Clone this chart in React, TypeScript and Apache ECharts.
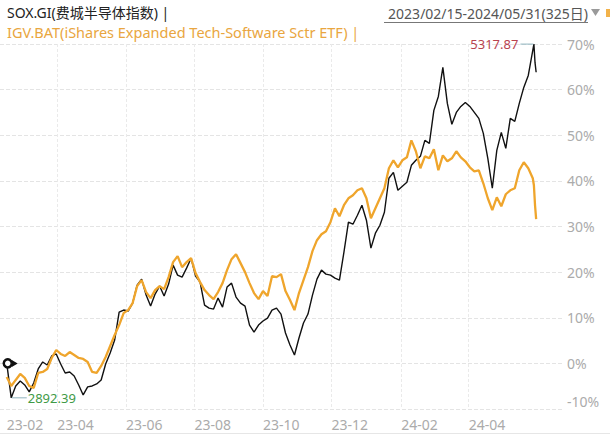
import { useEffect, useRef } from 'react';
import * as echarts from 'echarts';

const TITLE_SOX = 'SOX.GI(费城半导体指数) |';
const TITLE_IGV = 'IGV.BAT(iShares Expanded Tech-Software Sctr ETF) |';
const RANGE_TEXT = '2023/02/15-2024/05/31(325日)';

const SOX_MAX_PRICE = 5317.87;
const SOX_MIN_PRICE = 2892.39;

const X_MIN = '2023-02-09';
const X_MAX = '2024-06-23';
const xLabelDates = ['2023-02-15', '2023-04-01', '2023-06-01', '2023-08-01', '2023-10-01', '2023-12-01', '2024-02-01', '2024-04-01'];
const xGridDates = ['2023-04-01', '2023-06-01', '2023-08-01', '2023-10-01', '2023-12-01', '2024-02-01', '2024-04-01'];

const Y_MIN = -10;
const Y_MAX = 70;
const Y_STEP = 10;

const dates = [
  '2023-02-15', '2023-02-19', '2023-02-23', '2023-02-27', '2023-03-03', '2023-03-07', '2023-03-11', '2023-03-15', '2023-03-19', '2023-03-23',
  '2023-03-27', '2023-03-31', '2023-04-04', '2023-04-08', '2023-04-12', '2023-04-16', '2023-04-20', '2023-04-24', '2023-04-28', '2023-05-02',
  '2023-05-06', '2023-05-10', '2023-05-14', '2023-05-18', '2023-05-22', '2023-05-26', '2023-05-30', '2023-06-03', '2023-06-07', '2023-06-11',
  '2023-06-15', '2023-06-19', '2023-06-23', '2023-06-27', '2023-07-01', '2023-07-05', '2023-07-09', '2023-07-13', '2023-07-17', '2023-07-21',
  '2023-07-25', '2023-07-29', '2023-08-02', '2023-08-06', '2023-08-10', '2023-08-14', '2023-08-18', '2023-08-22', '2023-08-26', '2023-08-30',
  '2023-09-03', '2023-09-07', '2023-09-11', '2023-09-15', '2023-09-19', '2023-09-23', '2023-09-27', '2023-10-01', '2023-10-05', '2023-10-09',
  '2023-10-13', '2023-10-17', '2023-10-21', '2023-10-25', '2023-10-29', '2023-11-02', '2023-11-06', '2023-11-10', '2023-11-14', '2023-11-18',
  '2023-11-22', '2023-11-26', '2023-11-30', '2023-12-04', '2023-12-08', '2023-12-12', '2023-12-16', '2023-12-20', '2023-12-24', '2023-12-28',
  '2024-01-01', '2024-01-05', '2024-01-09', '2024-01-13', '2024-01-17', '2024-01-21', '2024-01-25', '2024-01-29', '2024-02-02', '2024-02-06',
  '2024-02-10', '2024-02-14', '2024-02-18', '2024-02-22', '2024-02-26', '2024-03-01', '2024-03-05', '2024-03-09', '2024-03-13', '2024-03-17',
  '2024-03-21', '2024-03-25', '2024-03-29', '2024-04-02', '2024-04-06', '2024-04-10', '2024-04-14', '2024-04-18', '2024-04-22', '2024-04-26',
  '2024-04-30', '2024-05-04', '2024-05-08', '2024-05-12', '2024-05-16', '2024-05-20', '2024-05-24', '2024-05-28', '2024-05-29', '2024-05-30', '2024-05-31',
];

// SOX.GI cumulative change (%)
const soxPct = [
  0, -7.55, -4.95, -3.85, -4.73, -6.26, -4.29, -1.23, 0.31, -0.35,
  1.62, 2.06, -0.13, -2.1, -1.88, -2.76, -4.73, -6.92, -5.16, -4.95,
  -4.51, -3.63, -0.13, 2.28, 5.12, 11.25, 11.69, 11.47, 13.22, 17.16,
  18.47, 14.97, 12.56, 15.19, 16.94, 14.75, 17.38, 21.53, 19.35, 18.9,
  20.88, 23.06, 19.12, 17.81, 12.78, 12.12, 11.9, 14.31, 12.34, 16.72,
  17.59, 14.53, 13.22, 12.56, 8.4, 6.87, 8.4, 9.28, 9.93, 11.69,
  12.12, 10.81, 6.65, 4.03, 1.84, 5.56, 8.84, 10.81, 14.97, 18.47,
  20.44, 19.56, 19.34, 18.69, 18.25, 24.38, 30.94, 30.5, 32.47, 34.66,
  31.38, 25.25, 28.53, 30.28, 33.13, 40.57, 41.88, 37.94, 38.82, 39.69,
  43.41, 44.51, 45.38, 48.88, 48.23, 55.45, 58.51, 64.86, 56.98, 52.39,
  55.01, 56.32, 57.2, 56.32, 55.01, 53.7, 50.42, 44.95, 38.38, 46.7,
  50.64, 47.13, 53.7, 53.04, 56.98, 60.48, 63.11, 68.58, 69.98, 65.9, 63.8,
];

// IGV.BAT cumulative change (%)
const igvPct = [
  -2.98, -4.95, -3.63, -2.32, -3.19, -4.95, -5.38, -2.1, -1.88, -1.23,
  1.18, 2.93, 2.06, 1.62, 2.49, 1.84, 1.18, 0.96, 0.31, -1.88,
  -2.1, -0.57, 1.4, 3.81, 6.21, 8.4, 11.03, 11.68, 13.22, 16.94,
  18.25, 15.63, 14.31, 16.06, 16.94, 16.28, 18.91, 22.19, 23.5, 21.09,
  22.19, 23.06, 19.78, 17.81, 16.06, 14.97, 14.09, 15.62, 17.59, 20.44,
  22.84, 23.94, 21.97, 20.0, 17.59, 15.41, 14.09, 15.84, 14.75, 19.12,
  18.91, 19.56, 15.84, 13.87, 11.68, 15.41, 18.25, 21.09, 24.6, 27.0,
  28.31, 28.97, 30.94, 34.0, 32.25, 34.66, 36.19, 36.85, 37.94, 38.38,
  36.19, 31.82, 34.0, 36.19, 38.38, 42.76, 44.51, 42.98, 44.51, 45.16,
  48.88, 46.48, 42.76, 45.38, 44.95, 46.92, 42.32, 45.6, 44.29, 44.95,
  46.48, 45.16, 44.29, 42.98, 42.1, 42.32, 39.47, 36.19, 33.57, 36.41,
  34.44, 37.07, 37.94, 38.38, 42.32, 44.07, 42.76, 40.57, 39.04, 34.66, 31.6,
];

const BLACK = '#111111';
const ORANGE = '#EFA52C';
const AXIS_TEXT = '#ABABAB';
const GRID = '#E4E4E4';
const FONT = '"Noto Sans", "Noto Sans CJK SC", sans-serif';

const ts = (d: string) => Date.parse(d + 'T00:00:00Z');

export default function App() {
  const ref = useRef<HTMLDivElement>(null);
  useEffect(() => {
    if (!ref.current) return;
    const chart = echarts.init(ref.current, undefined, { renderer: 'svg' });
    const fmtX = (v: number) => {
      const d = new Date(v);
      const yy = String(d.getUTCFullYear()).slice(2);
      const mm = String(d.getUTCMonth() + 1).padStart(2, '0');
      return `${yy}-${mm}`;
    };
    chart.setOption({
      animation: false,
      backgroundColor: '#ffffff',
      textStyle: { fontFamily: FONT },
      grid: { left: 0, right: 48, top: 44, bottom: 29, containLabel: false },
      xAxis: {
        type: 'value',
        min: ts(X_MIN),
        max: ts(X_MAX),
        axisLine: { show: false },
        axisTick: { show: false, customValues: xGridDates.map(ts) },
        splitLine: { show: true, lineStyle: { color: '#EAEAEA', width: 1, type: [3, 2] } },
        axisLabel: {
          customValues: xLabelDates.map(ts),
          formatter: fmtX,
          align: 'left',
          color: AXIS_TEXT,
          fontSize: 14,
          fontFamily: FONT,
          margin: 8,
        },
      },
      yAxis: {
        type: 'value',
        position: 'right',
        min: Y_MIN,
        max: Y_MAX,
        interval: Y_STEP,
        axisLine: { show: false },
        axisTick: { show: false },
        splitLine: { show: true, lineStyle: { color: GRID, width: 1, type: [4, 2] } },
        axisLabel: {
          margin: 5,
          color: AXIS_TEXT,
          fontSize: 14,
          fontFamily: FONT,
          formatter: (v: number) => (v === Y_MIN ? `{lo|${v}%}` : `${v}%`),
          rich: { lo: { color: AXIS_TEXT, fontSize: 14, fontFamily: FONT, padding: [0, 0, 16, 0] } },
        },
      },
      series: [
        {
          name: 'SOX.GI',
          type: 'line',
          showSymbol: false,
          symbol: 'none',
          data: dates.map((d, i) => [ts(d), soxPct[i]]),
          lineStyle: { color: BLACK, width: 1.4 },
          itemStyle: { color: BLACK },
          z: 2,
          markPoint: {
            silent: true,
            data: [
              {
                type: 'max',
                symbol: 'circle',
                symbolSize: 1,
                itemStyle: { color: 'rgba(0,0,0,0)' },
                label: {
                  show: true,
                  position: 'left',
                  distance: 0,
                  formatter: () => `{v|${SOX_MAX_PRICE.toFixed(2)}}{l|}`,
                  rich: {
                    v: { color: '#B8434F', fontSize: 13, fontFamily: FONT, padding: [0, 2, 0, 0] },
                    l: { width: 13, height: 1, backgroundColor: '#8FB4BE' },
                  },
                },
              },
              {
                type: 'min',
                symbol: 'circle',
                symbolSize: 1,
                itemStyle: { color: 'rgba(0,0,0,0)' },
                label: {
                  show: true,
                  position: 'right',
                  distance: 0,
                  formatter: () => `{l|}{v|${SOX_MIN_PRICE.toFixed(2)}}`,
                  rich: {
                    v: { color: '#3F9A46', fontSize: 13, fontFamily: FONT, padding: [0, 0, 0, 1] },
                    l: { width: 15, height: 1, backgroundColor: '#8FB4BE' },
                  },
                },
              },
              {
                coord: [ts(dates[0]), soxPct[0]],
                symbol: 'circle',
                symbolSize: 8,
                symbolOffset: [1, 0],
                itemStyle: { color: '#ffffff', borderColor: BLACK, borderWidth: 2.5 },
                label: { show: false },
              },
              {
                coord: [ts(dates[0]), soxPct[0]],
                symbol: 'triangle',
                symbolRotate: -90,
                symbolSize: [7, 6],
                symbolOffset: [8, 0],
                itemStyle: { color: BLACK },
                label: { show: false },
              },
            ],
          },
        },
        {
          name: 'IGV.BAT',
          type: 'line',
          showSymbol: false,
          symbol: 'none',
          data: dates.map((d, i) => [ts(d), igvPct[i]]),
          lineStyle: { color: ORANGE, width: 2.3 },
          itemStyle: { color: ORANGE },
          z: 3,
        },
      ],
      graphic: [
        {
          type: 'text',
          x: 7,
          y: 12.5,
          style: { text: TITLE_SOX, fill: '#222222', font: `14px ${FONT}`, verticalAlign: 'middle' },
        },
        {
          type: 'text',
          x: 7,
          y: 31.5,
          style: { text: TITLE_IGV, fill: '#E9A640', font: `14.5px ${FONT}`, verticalAlign: 'middle' },
        },
        {
          type: 'text',
          x: 588,
          y: 13,
          style: { text: RANGE_TEXT, fill: '#555555', font: `14px ${FONT}`, align: 'right', verticalAlign: 'middle' },
        },
        {
          type: 'line',
          shape: { x1: 384, y1: 22.5, x2: 588, y2: 22.5 },
          style: { stroke: '#777777', lineWidth: 1 },
        },
        {
          type: 'polygon',
          shape: { points: [[591, 9], [600, 9], [595.5, 16]] },
          style: { fill: '#9A9A9A' },
        },
        {
          type: 'rect',
          shape: { x: 606, y: 9, width: 4, height: 8 },
          style: { fill: '#F2B24A' },
        },
        {
          type: 'line',
          shape: { x1: 0, y1: 433.5, x2: 610, y2: 433.5 },
          style: { stroke: '#E6E6E6', lineWidth: 1 },
        },
      ],
    });
    return () => chart.dispose();
  }, []);
  return (
    <div
      ref={ref}
      style={{ position: 'absolute', left: 0, top: 0, width: 610, height: 438, background: '#ffffff' }}
    />
  );
}
